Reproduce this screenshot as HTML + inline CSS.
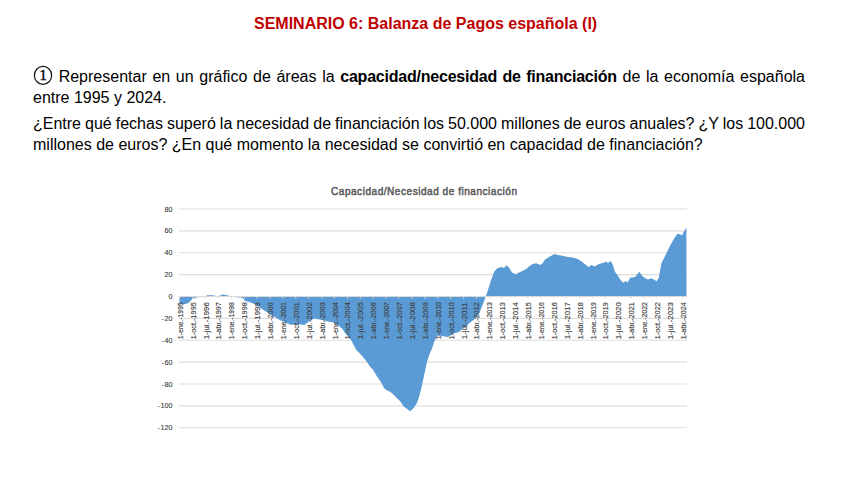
<!DOCTYPE html>
<html><head><meta charset="utf-8">
<style>
html,body{margin:0;padding:0;background:#fff;}
body{width:848px;height:477px;position:relative;overflow:hidden;font-family:"Liberation Sans",sans-serif;color:#000;}
.l{position:absolute;white-space:nowrap;font-size:16px;line-height:16px;}
.c1{display:inline-block;width:20px;height:16px;position:relative;vertical-align:top;} .c1 svg{position:absolute;left:-0.1px;top:-4px;}
.j{text-align:justify;text-align-last:justify;white-space:normal;}
#title{position:absolute;left:254px;top:14px;font-weight:bold;color:#c00000;font-size:16px;line-height:20px;white-space:nowrap;transform-origin:0 0;}
svg{position:absolute;left:0;top:0;}
</style></head><body>
<div id="title">SEMINARIO 6: Balanza de Pagos española (I)</div>
<div class="l j" id="p1l1" style="left:33px;top:69px;width:772px;"><span class="c1"><svg width="20" height="20" viewBox="0 0 20 20"><ellipse cx="10" cy="10.4" rx="8.6" ry="9" fill="none" stroke="#111" stroke-width="1.2"/><text x="10" y="15.3" text-anchor="middle" font-family="Liberation Serif, serif" font-size="14.5" stroke="#000" stroke-width="0.45">1</text></svg></span> Representar en un gráfico de áreas la <b style="letter-spacing:-0.22px">capacidad/necesidad de financiación</b> de la economía española</div>
<div class="l" id="p1l2" style="left:33px;top:90px;">entre 1995 y 2024.</div>
<div class="l j" id="p2l1" style="left:33px;top:116px;width:772px;word-spacing:-1px">¿Entre qué fechas superó la necesidad de financiación los 50.000 millones de euros anuales? ¿Y los 100.000</div>
<div class="l" id="p2l2" style="left:33px;top:137px;">millones de euros? ¿En qué momento la necesidad se convirtió en capacidad de financiación?</div>
<svg width="848" height="477" viewBox="0 0 848 477" font-family="Liberation Sans, sans-serif">
<text transform="translate(424,195.3) scale(0.9,1)" x="0" y="0" text-anchor="middle" font-size="11.2" fill="#595959" stroke="#595959" stroke-width="0.5" textLength="206.7" lengthAdjust="spacing">Capacidad/Necesidad de financiación</text>
<line x1="178.9" x2="687" y1="209.0" y2="209.0" stroke="#dedede" stroke-width="1.1"/>
<text x="172.5" y="211.5" text-anchor="end" font-size="7.2" fill="#404040" stroke="#404040" stroke-width="0.12">80</text>
<line x1="178.9" x2="687" y1="230.9" y2="230.9" stroke="#dedede" stroke-width="1.1"/>
<text x="172.5" y="233.4" text-anchor="end" font-size="7.2" fill="#404040" stroke="#404040" stroke-width="0.12">60</text>
<line x1="178.9" x2="687" y1="252.7" y2="252.7" stroke="#dedede" stroke-width="1.1"/>
<text x="172.5" y="255.2" text-anchor="end" font-size="7.2" fill="#404040" stroke="#404040" stroke-width="0.12">40</text>
<line x1="178.9" x2="687" y1="274.6" y2="274.6" stroke="#dedede" stroke-width="1.1"/>
<text x="172.5" y="277.1" text-anchor="end" font-size="7.2" fill="#404040" stroke="#404040" stroke-width="0.12">20</text>
<text x="172.5" y="299.0" text-anchor="end" font-size="7.2" fill="#404040" stroke="#404040" stroke-width="0.12">0</text>
<line x1="178.9" x2="687" y1="318.4" y2="318.4" stroke="#dedede" stroke-width="1.1"/>
<text x="172.5" y="320.9" text-anchor="end" font-size="7.2" fill="#404040" stroke="#404040" stroke-width="0.12">-<tspan dx="0.7">20</tspan></text>
<line x1="178.9" x2="687" y1="340.3" y2="340.3" stroke="#dedede" stroke-width="1.1"/>
<text x="172.5" y="342.8" text-anchor="end" font-size="7.2" fill="#404040" stroke="#404040" stroke-width="0.12">-<tspan dx="0.7">40</tspan></text>
<line x1="178.9" x2="687" y1="362.1" y2="362.1" stroke="#dedede" stroke-width="1.1"/>
<text x="172.5" y="364.6" text-anchor="end" font-size="7.2" fill="#404040" stroke="#404040" stroke-width="0.12">-<tspan dx="0.7">60</tspan></text>
<line x1="178.9" x2="687" y1="384.0" y2="384.0" stroke="#dedede" stroke-width="1.1"/>
<text x="172.5" y="386.5" text-anchor="end" font-size="7.2" fill="#404040" stroke="#404040" stroke-width="0.12">-<tspan dx="0.7">80</tspan></text>
<line x1="178.9" x2="687" y1="405.9" y2="405.9" stroke="#dedede" stroke-width="1.1"/>
<text x="172.5" y="408.4" text-anchor="end" font-size="7.2" fill="#404040" stroke="#404040" stroke-width="0.12">-<tspan dx="0.7">100</tspan></text>
<line x1="178.9" x2="687" y1="427.8" y2="427.8" stroke="#dedede" stroke-width="1.1"/>
<text x="172.5" y="430.3" text-anchor="end" font-size="7.2" fill="#404040" stroke="#404040" stroke-width="0.12">-<tspan dx="0.7">120</tspan></text>

<polygon points="179.4,296.5 179.5,304.6 185.6,304 188.8,302.8 192.5,298.8 196.2,297.5 200,297 205,296.5 207,295.2 213,295.2 217.5,296.6 222.8,294.5 228,295.5 233,297 241,297.5 243,298.3 245,301 249.3,302 255.7,304.6 265,311 273.6,316.2 280.7,320.4 291.3,325 297.2,323.9 304.2,325 309,321.6 313.7,318.6 320.8,319.8 330.2,322.1 335,322.7 342,328.6 345.4,333.6 350.5,339 356.3,350 361.8,355.4 367.2,362.2 370,366.8 373.4,370.2 376.7,376 379.2,379.4 381.7,383.6 384.3,388.6 386.8,390.3 390.1,391.7 393.5,394.5 396.8,397.9 400.2,401.2 403.5,406.2 406.9,408.8 410.3,411.3 413.6,407.9 417,402.9 419.5,395.3 422,385.3 424.5,373.5 427,361.8 429.5,354.3 432,348.4 434.6,340.8 437.1,335.8 440.7,335.8 444.3,336.6 447.8,337 451.4,334.9 455,333.1 458.5,332.2 462.1,329.5 465.7,326.8 469.2,323.3 472.8,320.6 476.3,317.9 479.9,311.7 483.5,302.8 485.3,297.4 487,293 490.6,281.4 494.2,271.6 497.7,268 501.3,267.1 504,268 506.5,265.3 509.3,268 512,272.5 515.6,274.3 519.1,272.5 522.7,270.7 526.3,268.9 528.8,266.4 532.6,263.9 536.3,263.3 540.1,265.1 542.6,263.3 545.1,259.5 548.9,257 552.7,255.1 554.6,254.1 557.7,255.1 562.7,255.7 567.8,257 572.8,257.6 577.8,258.9 581.6,261.4 585.4,264.5 588.5,267 591.6,265.1 594.8,266.4 597.9,264.5 601.7,263.3 606.2,261.7 608,263.1 610.7,261 612.5,264 615.1,272 617.8,275.6 620.5,280 623.2,282.7 625.8,280.9 627.6,282.4 630.3,277.4 633,277.4 635.6,276.5 639.2,271.7 642.8,276.5 645.4,278.3 648.1,279.5 650.8,278.3 653.5,279.2 656.7,281.3 658.8,277.4 661.5,263.1 664.2,257.8 667.7,250.6 671.3,243.5 674.9,237.3 677.5,233.7 680.2,234.2 682,235.5 683.8,231.9 686.4,227.5 686.5,296.5" fill="#5b9bd5"/>
<line x1="178.9" x2="687" y1="296.5" y2="296.5" stroke="#d9d9d9" stroke-width="1"/>
<line x1="179.7" x2="179.7" y1="296.5" y2="298.5" stroke="#d9d9d9" stroke-width="1"/>
<line x1="192.6" x2="192.6" y1="296.5" y2="298.5" stroke="#d9d9d9" stroke-width="1"/>
<line x1="205.5" x2="205.5" y1="296.5" y2="298.5" stroke="#d9d9d9" stroke-width="1"/>
<line x1="218.4" x2="218.4" y1="296.5" y2="298.5" stroke="#d9d9d9" stroke-width="1"/>
<line x1="231.3" x2="231.3" y1="296.5" y2="298.5" stroke="#d9d9d9" stroke-width="1"/>
<line x1="244.2" x2="244.2" y1="296.5" y2="298.5" stroke="#d9d9d9" stroke-width="1"/>
<line x1="257.1" x2="257.1" y1="296.5" y2="298.5" stroke="#d9d9d9" stroke-width="1"/>
<line x1="270.0" x2="270.0" y1="296.5" y2="298.5" stroke="#d9d9d9" stroke-width="1"/>
<line x1="282.9" x2="282.9" y1="296.5" y2="298.5" stroke="#d9d9d9" stroke-width="1"/>
<line x1="295.8" x2="295.8" y1="296.5" y2="298.5" stroke="#d9d9d9" stroke-width="1"/>
<line x1="308.7" x2="308.7" y1="296.5" y2="298.5" stroke="#d9d9d9" stroke-width="1"/>
<line x1="321.6" x2="321.6" y1="296.5" y2="298.5" stroke="#d9d9d9" stroke-width="1"/>
<line x1="334.5" x2="334.5" y1="296.5" y2="298.5" stroke="#d9d9d9" stroke-width="1"/>
<line x1="347.4" x2="347.4" y1="296.5" y2="298.5" stroke="#d9d9d9" stroke-width="1"/>
<line x1="360.3" x2="360.3" y1="296.5" y2="298.5" stroke="#d9d9d9" stroke-width="1"/>
<line x1="373.2" x2="373.2" y1="296.5" y2="298.5" stroke="#d9d9d9" stroke-width="1"/>
<line x1="386.1" x2="386.1" y1="296.5" y2="298.5" stroke="#d9d9d9" stroke-width="1"/>
<line x1="399.0" x2="399.0" y1="296.5" y2="298.5" stroke="#d9d9d9" stroke-width="1"/>
<line x1="411.9" x2="411.9" y1="296.5" y2="298.5" stroke="#d9d9d9" stroke-width="1"/>
<line x1="424.8" x2="424.8" y1="296.5" y2="298.5" stroke="#d9d9d9" stroke-width="1"/>
<line x1="437.7" x2="437.7" y1="296.5" y2="298.5" stroke="#d9d9d9" stroke-width="1"/>
<line x1="450.6" x2="450.6" y1="296.5" y2="298.5" stroke="#d9d9d9" stroke-width="1"/>
<line x1="463.5" x2="463.5" y1="296.5" y2="298.5" stroke="#d9d9d9" stroke-width="1"/>
<line x1="476.4" x2="476.4" y1="296.5" y2="298.5" stroke="#d9d9d9" stroke-width="1"/>
<line x1="489.3" x2="489.3" y1="296.5" y2="298.5" stroke="#d9d9d9" stroke-width="1"/>
<line x1="502.2" x2="502.2" y1="296.5" y2="298.5" stroke="#d9d9d9" stroke-width="1"/>
<line x1="515.1" x2="515.1" y1="296.5" y2="298.5" stroke="#d9d9d9" stroke-width="1"/>
<line x1="528.0" x2="528.0" y1="296.5" y2="298.5" stroke="#d9d9d9" stroke-width="1"/>
<line x1="540.9" x2="540.9" y1="296.5" y2="298.5" stroke="#d9d9d9" stroke-width="1"/>
<line x1="553.8" x2="553.8" y1="296.5" y2="298.5" stroke="#d9d9d9" stroke-width="1"/>
<line x1="566.7" x2="566.7" y1="296.5" y2="298.5" stroke="#d9d9d9" stroke-width="1"/>
<line x1="579.6" x2="579.6" y1="296.5" y2="298.5" stroke="#d9d9d9" stroke-width="1"/>
<line x1="592.5" x2="592.5" y1="296.5" y2="298.5" stroke="#d9d9d9" stroke-width="1"/>
<line x1="605.4" x2="605.4" y1="296.5" y2="298.5" stroke="#d9d9d9" stroke-width="1"/>
<line x1="618.3" x2="618.3" y1="296.5" y2="298.5" stroke="#d9d9d9" stroke-width="1"/>
<line x1="631.2" x2="631.2" y1="296.5" y2="298.5" stroke="#d9d9d9" stroke-width="1"/>
<line x1="644.1" x2="644.1" y1="296.5" y2="298.5" stroke="#d9d9d9" stroke-width="1"/>
<line x1="657.0" x2="657.0" y1="296.5" y2="298.5" stroke="#d9d9d9" stroke-width="1"/>
<line x1="669.9" x2="669.9" y1="296.5" y2="298.5" stroke="#d9d9d9" stroke-width="1"/>
<line x1="682.8" x2="682.8" y1="296.5" y2="298.5" stroke="#d9d9d9" stroke-width="1"/>

<text transform="translate(182.7,302.2) rotate(-90)" text-anchor="end" font-size="8" textLength="37" lengthAdjust="spacingAndGlyphs" fill="#404040" stroke="#404040" stroke-width="0.15">1-ene.-1995</text>
<text transform="translate(195.6,302.2) rotate(-90)" text-anchor="end" font-size="8" textLength="37" lengthAdjust="spacingAndGlyphs" fill="#404040" stroke="#404040" stroke-width="0.15">1-oct.-1995</text>
<text transform="translate(208.5,302.2) rotate(-90)" text-anchor="end" font-size="8" textLength="37" lengthAdjust="spacingAndGlyphs" fill="#404040" stroke="#404040" stroke-width="0.15">1-jul.-1996</text>
<text transform="translate(221.4,302.2) rotate(-90)" text-anchor="end" font-size="8" textLength="37" lengthAdjust="spacingAndGlyphs" fill="#404040" stroke="#404040" stroke-width="0.15">1-abr.-1997</text>
<text transform="translate(234.3,302.2) rotate(-90)" text-anchor="end" font-size="8" textLength="37" lengthAdjust="spacingAndGlyphs" fill="#404040" stroke="#404040" stroke-width="0.15">1-ene.-1998</text>
<text transform="translate(247.2,302.2) rotate(-90)" text-anchor="end" font-size="8" textLength="37" lengthAdjust="spacingAndGlyphs" fill="#404040" stroke="#404040" stroke-width="0.15">1-oct.-1998</text>
<text transform="translate(260.1,302.2) rotate(-90)" text-anchor="end" font-size="8" textLength="37" lengthAdjust="spacingAndGlyphs" fill="#404040" stroke="#404040" stroke-width="0.15">1-jul.-1999</text>
<text transform="translate(273.0,302.2) rotate(-90)" text-anchor="end" font-size="8" textLength="37" lengthAdjust="spacingAndGlyphs" fill="#404040" stroke="#404040" stroke-width="0.15">1-abr.-2000</text>
<text transform="translate(285.9,302.2) rotate(-90)" text-anchor="end" font-size="8" textLength="37" lengthAdjust="spacingAndGlyphs" fill="#404040" stroke="#404040" stroke-width="0.15">1-ene.-2001</text>
<text transform="translate(298.8,302.2) rotate(-90)" text-anchor="end" font-size="8" textLength="37" lengthAdjust="spacingAndGlyphs" fill="#404040" stroke="#404040" stroke-width="0.15">1-oct.-2001</text>
<text transform="translate(311.7,302.2) rotate(-90)" text-anchor="end" font-size="8" textLength="37" lengthAdjust="spacingAndGlyphs" fill="#404040" stroke="#404040" stroke-width="0.15">1-jul.-2002</text>
<text transform="translate(324.6,302.2) rotate(-90)" text-anchor="end" font-size="8" textLength="37" lengthAdjust="spacingAndGlyphs" fill="#404040" stroke="#404040" stroke-width="0.15">1-abr.-2003</text>
<text transform="translate(337.5,302.2) rotate(-90)" text-anchor="end" font-size="8" textLength="37" lengthAdjust="spacingAndGlyphs" fill="#404040" stroke="#404040" stroke-width="0.15">1-ene.-2004</text>
<text transform="translate(350.4,302.2) rotate(-90)" text-anchor="end" font-size="8" textLength="37" lengthAdjust="spacingAndGlyphs" fill="#404040" stroke="#404040" stroke-width="0.15">1-oct.-2004</text>
<text transform="translate(363.3,302.2) rotate(-90)" text-anchor="end" font-size="8" textLength="37" lengthAdjust="spacingAndGlyphs" fill="#404040" stroke="#404040" stroke-width="0.15">1-jul.-2005</text>
<text transform="translate(376.2,302.2) rotate(-90)" text-anchor="end" font-size="8" textLength="37" lengthAdjust="spacingAndGlyphs" fill="#404040" stroke="#404040" stroke-width="0.15">1-abr.-2006</text>
<text transform="translate(389.1,302.2) rotate(-90)" text-anchor="end" font-size="8" textLength="37" lengthAdjust="spacingAndGlyphs" fill="#404040" stroke="#404040" stroke-width="0.15">1-ene.-2007</text>
<text transform="translate(402.0,302.2) rotate(-90)" text-anchor="end" font-size="8" textLength="37" lengthAdjust="spacingAndGlyphs" fill="#404040" stroke="#404040" stroke-width="0.15">1-oct.-2007</text>
<text transform="translate(414.9,302.2) rotate(-90)" text-anchor="end" font-size="8" textLength="37" lengthAdjust="spacingAndGlyphs" fill="#404040" stroke="#404040" stroke-width="0.15">1-jul.-2008</text>
<text transform="translate(427.8,302.2) rotate(-90)" text-anchor="end" font-size="8" textLength="37" lengthAdjust="spacingAndGlyphs" fill="#404040" stroke="#404040" stroke-width="0.15">1-abr.-2009</text>
<text transform="translate(440.7,302.2) rotate(-90)" text-anchor="end" font-size="8" textLength="37" lengthAdjust="spacingAndGlyphs" fill="#404040" stroke="#404040" stroke-width="0.15">1-ene.-2010</text>
<text transform="translate(453.6,302.2) rotate(-90)" text-anchor="end" font-size="8" textLength="37" lengthAdjust="spacingAndGlyphs" fill="#404040" stroke="#404040" stroke-width="0.15">1-oct.-2010</text>
<text transform="translate(466.5,302.2) rotate(-90)" text-anchor="end" font-size="8" textLength="37" lengthAdjust="spacingAndGlyphs" fill="#404040" stroke="#404040" stroke-width="0.15">1-jul.-2011</text>
<text transform="translate(479.4,302.2) rotate(-90)" text-anchor="end" font-size="8" textLength="37" lengthAdjust="spacingAndGlyphs" fill="#404040" stroke="#404040" stroke-width="0.15">1-abr.-2012</text>
<text transform="translate(492.3,302.2) rotate(-90)" text-anchor="end" font-size="8" textLength="37" lengthAdjust="spacingAndGlyphs" fill="#404040" stroke="#404040" stroke-width="0.15">1-ene.-2013</text>
<text transform="translate(505.2,302.2) rotate(-90)" text-anchor="end" font-size="8" textLength="37" lengthAdjust="spacingAndGlyphs" fill="#404040" stroke="#404040" stroke-width="0.15">1-oct.-2013</text>
<text transform="translate(518.1,302.2) rotate(-90)" text-anchor="end" font-size="8" textLength="37" lengthAdjust="spacingAndGlyphs" fill="#404040" stroke="#404040" stroke-width="0.15">1-jul.-2014</text>
<text transform="translate(531.0,302.2) rotate(-90)" text-anchor="end" font-size="8" textLength="37" lengthAdjust="spacingAndGlyphs" fill="#404040" stroke="#404040" stroke-width="0.15">1-abr.-2015</text>
<text transform="translate(543.9,302.2) rotate(-90)" text-anchor="end" font-size="8" textLength="37" lengthAdjust="spacingAndGlyphs" fill="#404040" stroke="#404040" stroke-width="0.15">1-ene.-2016</text>
<text transform="translate(556.8,302.2) rotate(-90)" text-anchor="end" font-size="8" textLength="37" lengthAdjust="spacingAndGlyphs" fill="#404040" stroke="#404040" stroke-width="0.15">1-oct.-2016</text>
<text transform="translate(569.7,302.2) rotate(-90)" text-anchor="end" font-size="8" textLength="37" lengthAdjust="spacingAndGlyphs" fill="#404040" stroke="#404040" stroke-width="0.15">1-jul.-2017</text>
<text transform="translate(582.6,302.2) rotate(-90)" text-anchor="end" font-size="8" textLength="37" lengthAdjust="spacingAndGlyphs" fill="#404040" stroke="#404040" stroke-width="0.15">1-abr.-2018</text>
<text transform="translate(595.5,302.2) rotate(-90)" text-anchor="end" font-size="8" textLength="37" lengthAdjust="spacingAndGlyphs" fill="#404040" stroke="#404040" stroke-width="0.15">1-ene.-2019</text>
<text transform="translate(608.4,302.2) rotate(-90)" text-anchor="end" font-size="8" textLength="37" lengthAdjust="spacingAndGlyphs" fill="#404040" stroke="#404040" stroke-width="0.15">1-oct.-2019</text>
<text transform="translate(621.3,302.2) rotate(-90)" text-anchor="end" font-size="8" textLength="37" lengthAdjust="spacingAndGlyphs" fill="#404040" stroke="#404040" stroke-width="0.15">1-jul.-2020</text>
<text transform="translate(634.2,302.2) rotate(-90)" text-anchor="end" font-size="8" textLength="37" lengthAdjust="spacingAndGlyphs" fill="#404040" stroke="#404040" stroke-width="0.15">1-abr.-2021</text>
<text transform="translate(647.1,302.2) rotate(-90)" text-anchor="end" font-size="8" textLength="37" lengthAdjust="spacingAndGlyphs" fill="#404040" stroke="#404040" stroke-width="0.15">1-ene.-2022</text>
<text transform="translate(660.0,302.2) rotate(-90)" text-anchor="end" font-size="8" textLength="37" lengthAdjust="spacingAndGlyphs" fill="#404040" stroke="#404040" stroke-width="0.15">1-oct.-2022</text>
<text transform="translate(672.9,302.2) rotate(-90)" text-anchor="end" font-size="8" textLength="37" lengthAdjust="spacingAndGlyphs" fill="#404040" stroke="#404040" stroke-width="0.15">1-jul.-2023</text>
<text transform="translate(685.8,302.2) rotate(-90)" text-anchor="end" font-size="8" textLength="37" lengthAdjust="spacingAndGlyphs" fill="#404040" stroke="#404040" stroke-width="0.15">1-abr.-2024</text>

</svg>
</body></html>
